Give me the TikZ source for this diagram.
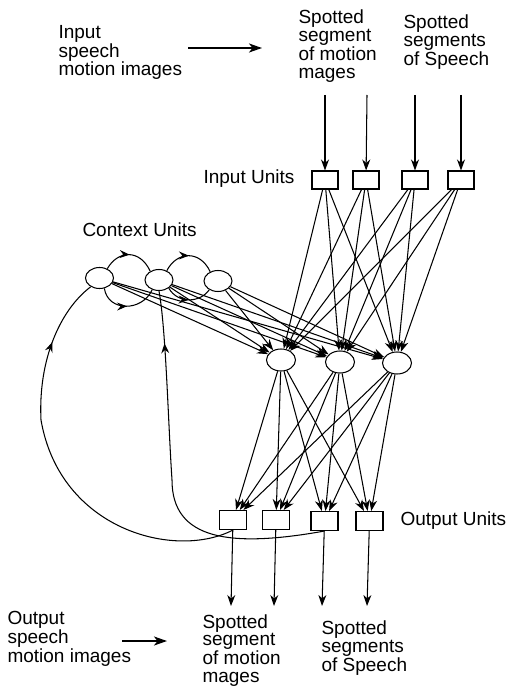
\documentclass[tikz,border=0pt]{standalone}
\usepackage{fontspec}
\setmainfont{Liberation Sans}
\usetikzlibrary{arrows.meta,shapes.geometric,decorations.markings}

\tikzset{
    unitbox/.style={draw,rectangle,minimum width=26pt,minimum height=18pt,inner sep=0pt},
    unitoval/.style={draw,ellipse,minimum width=29pt,minimum height=22pt,inner sep=0pt},
    lbl/.style={font=\fontsize{19}{18.5}\selectfont,align=left,inner sep=0pt},
    wire/.style={-{Stealth[length=11pt,width=8pt,inset=3.5pt]}},
    bigwire/.style={line width=1.8pt,-{Stealth[length=13pt,width=9pt,inset=3.5pt]}},
    midtip/.style={postaction={decorate},decoration={markings,
        mark=at position #1 with {\arrow{Stealth[length=10pt,width=8pt,inset=3.5pt]}}}}
}

\begin{document}
\begin{tikzpicture}[x=1pt,y=-1pt,line width=1.05pt]
    \useasboundingbox (0,0) rectangle (507,687);

    % 输入层
    \foreach \n/\x in {1/325,2/366,3/415,4/461}
        \node[unitbox] (in\n) at (\x,180) {};
    % 隐层
    \foreach \n/\x/\y in {1/281/360,2/340/362,3/397/363}
        \node[unitoval] (hid\n) at (\x,\y) {};
    % 上下文层
    \foreach \n/\x/\y in {1/99.5/278,2/159/280,3/218/281}
        \node[unitoval,minimum width=28pt,minimum height=21pt] (ctx\n) at (\x,\y) {};
    % 输出层
    \foreach \n/\x/\y in {1/233/520,2/276/520,3/324.5/521,4/369.5/521}
        \node[unitbox,minimum width=27pt,minimum height=19pt] (out\n) at (\x,\y) {};

    % 文字
    \node[lbl,anchor=north west] (intxt) at (58,25) {Input\\speech\\motion images};
    \node[lbl,anchor=north west] (topA) at (298,9) {Spotted\\segment\\of motion\\mages};
    \node[lbl,anchor=north west] (topB) at (403,14) {Spotted\\segments\\of Speech};
    \node[lbl,anchor=base west] (inlbl) at (203,183) {Input Units};
    \node[lbl,anchor=base west] (ctxlbl) at (82,236) {Context Units};
    \node[lbl,anchor=base west] (outlbl) at (400,525) {Output Units};
    \node[lbl,anchor=north west,font=\fontsize{19}{15}\selectfont] (outtxt) at (7,611) {Output\\speech\\motion images};
    \node[lbl,anchor=north west,font=\fontsize{19}{17.5}\selectfont] (botA) at (202,614) {Spotted\\segment\\of motion\\mages};
    \node[lbl,anchor=north west] (botB) at (321,620) {Spotted\\segments\\of Speech};

    % 粗箭头
    \coordinate (ia) at (188,48);
    \draw[bigwire,shorten >=36pt] (ia) -- (ia -| topA.west);
    \coordinate (oa) at (122,641);
    \draw[bigwire,shorten >=35pt] (oa) -- (oa -| botA.west);

    % 输入与输出
    \foreach \n/\x in {1/325,2/367,3/415,4/461} {
        \coordinate (src\n) at (\x,95);
        \draw[wire] (src\n) -- (in\n);
    }
    \foreach \n/\x in {1/231,2/274,3/322,4/367} {
        \coordinate (dst\n) at (\x,606);
        \draw[wire] (out\n) -- (dst\n);
    }

    % 全连接
    \foreach \i in {1,...,4}
        \foreach \j in {1,2,3}
            \draw[wire] (in\i) -- (hid\j);
    \foreach \i in {1,2,3}
        \foreach \j in {1,2,3}
            \draw[wire] (ctx\i) -- (hid\j);
    \foreach \i in {1,2,3}
        \foreach \j in {1,...,4}
            \draw[wire] (hid\i) -- (out\j);

    % 上下文单元之间
    \draw[midtip=0.5] (ctx1.50) .. controls (118,250) and (140,249) .. (ctx2.135);
    \draw[midtip=0.5] (ctx1.295) .. controls (108,312) and (142,312) .. (ctx2.235);
    \draw[midtip=0.5] (ctx2.50) .. controls (177,251) and (200,250) .. (ctx3.130);
    \draw[midtip=0.5] (ctx2.320) .. controls (178,304) and (200,303) .. (ctx3.225);

    % 反馈
    \draw[midtip=0.83] (out1.south) .. controls (175,560) and (60,530) .. (41,420)
        .. controls (38,360) and (60,310) .. (ctx1.225);
    \draw[midtip=0.86] (out3.south) .. controls (230,548) and (172,540) .. (172,480)
        .. controls (168,420) and (166,330) .. (ctx2.south);
\end{tikzpicture}
\end{document}
